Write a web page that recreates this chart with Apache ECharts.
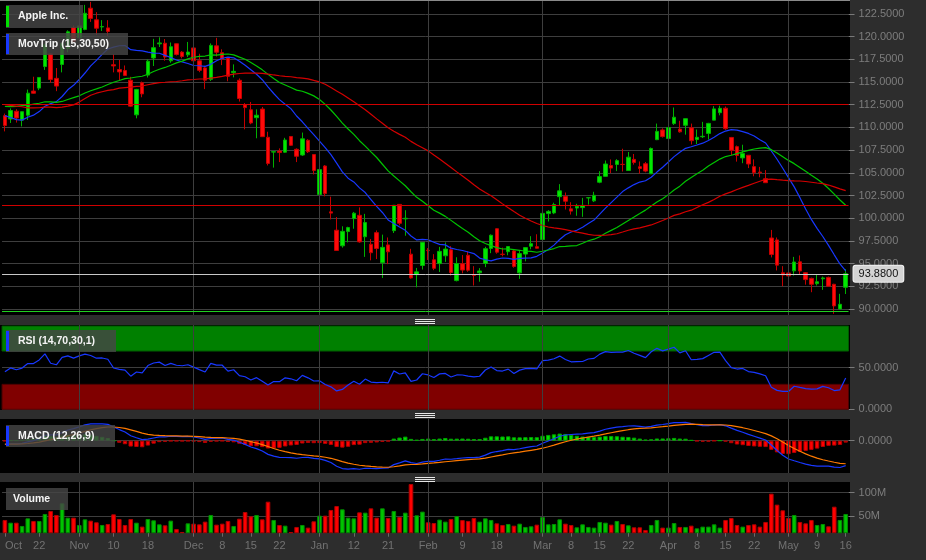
<!DOCTYPE html>
<html><head><meta charset="utf-8">
<script src="https://cdn.jsdelivr.net/npm/echarts@6/dist/echarts.min.js"></script>
<style>html,body{margin:0;padding:0;background:#2d2d2d;}#c{width:926px;height:560px;}</style>
</head><body><div id="c"></div>
<script>
// ---------- DATA ----------
const dates = [
'2015-10-14','2015-10-15','2015-10-16','2015-10-19','2015-10-20','2015-10-21','2015-10-22','2015-10-23','2015-10-26','2015-10-27','2015-10-28','2015-10-29','2015-10-30',
'2015-11-02','2015-11-03','2015-11-04','2015-11-05','2015-11-06','2015-11-09','2015-11-10','2015-11-11','2015-11-12','2015-11-13','2015-11-16','2015-11-17','2015-11-18','2015-11-19','2015-11-20','2015-11-23','2015-11-24','2015-11-25','2015-11-27','2015-11-30',
'2015-12-01','2015-12-02','2015-12-03','2015-12-04','2015-12-07','2015-12-08','2015-12-09','2015-12-10','2015-12-11','2015-12-14','2015-12-15','2015-12-16','2015-12-17','2015-12-18','2015-12-21','2015-12-22','2015-12-23','2015-12-24','2015-12-28','2015-12-29','2015-12-30','2015-12-31',
'2016-01-04','2016-01-05','2016-01-06','2016-01-07','2016-01-08','2016-01-11','2016-01-12','2016-01-13','2016-01-14','2016-01-15','2016-01-19','2016-01-20','2016-01-21','2016-01-22','2016-01-25','2016-01-26','2016-01-27','2016-01-28','2016-01-29',
'2016-02-01','2016-02-02','2016-02-03','2016-02-04','2016-02-05','2016-02-08','2016-02-09','2016-02-10','2016-02-11','2016-02-12','2016-02-16','2016-02-17','2016-02-18','2016-02-19','2016-02-22','2016-02-23','2016-02-24','2016-02-25','2016-02-26','2016-02-29',
'2016-03-01','2016-03-02','2016-03-03','2016-03-04','2016-03-07','2016-03-08','2016-03-09','2016-03-10','2016-03-11','2016-03-14','2016-03-15','2016-03-16','2016-03-17','2016-03-18','2016-03-21','2016-03-22','2016-03-23','2016-03-24','2016-03-28','2016-03-29','2016-03-30','2016-03-31',
'2016-04-01','2016-04-04','2016-04-05','2016-04-06','2016-04-07','2016-04-08','2016-04-11','2016-04-12','2016-04-13','2016-04-14','2016-04-15','2016-04-18','2016-04-19','2016-04-20','2016-04-21','2016-04-22','2016-04-25','2016-04-26','2016-04-27','2016-04-28','2016-04-29',
'2016-05-02','2016-05-03','2016-05-04','2016-05-05','2016-05-06','2016-05-09','2016-05-10','2016-05-11','2016-05-12','2016-05-13','2016-05-16'];

const opens = [111.29,110.93,111.78,110.80,111.34,114.00,114.33,116.70,118.08,115.40,116.93,118.70,120.99,
119.87,120.79,123.13,121.85,121.11,120.96,116.90,116.37,116.26,115.20,111.38,114.92,115.76,117.64,119.20,119.27,117.33,119.21,118.29,117.99,
118.75,117.34,116.55,115.29,118.98,117.52,117.64,116.04,115.19,112.18,111.94,111.07,112.02,108.91,107.28,107.40,107.27,109.00,107.59,106.96,108.58,107.01,
102.61,105.75,100.56,98.68,98.55,98.97,100.55,100.32,97.96,96.20,98.41,95.10,97.06,98.63,101.52,99.93,96.04,93.79,94.79,
96.47,95.42,95.00,95.86,96.52,93.13,94.29,95.92,93.79,94.19,95.02,96.67,98.84,96.00,96.31,96.40,93.98,96.05,97.20,96.86,
97.65,100.51,100.58,102.37,102.39,100.78,101.31,101.41,102.24,101.91,103.96,104.61,105.52,106.34,105.93,105.25,106.48,105.47,106.00,104.89,108.65,109.72,
108.78,110.42,109.51,110.23,109.95,108.91,108.97,109.34,110.80,111.62,112.11,108.89,107.88,106.64,106.93,105.01,105.00,103.91,96.00,97.61,93.99,
93.97,94.20,95.20,94.00,93.37,93.00,93.33,93.48,92.72,90.00,92.39];
const highs = [111.52,112.10,112.00,111.75,114.17,115.58,115.50,119.23,118.13,116.54,119.30,120.69,121.22,
121.36,123.49,123.82,122.69,121.81,121.81,118.07,117.42,116.82,115.57,114.24,115.05,117.49,119.75,119.92,119.73,119.35,119.23,118.41,119.41,
118.81,118.11,116.79,119.25,119.86,118.60,117.69,116.94,115.39,112.68,112.80,111.99,112.25,109.52,107.37,107.69,108.85,109.00,107.69,109.43,108.70,107.03,
105.37,105.85,102.37,100.13,99.11,99.06,100.69,101.19,100.48,97.71,98.65,98.19,97.88,101.46,101.53,100.88,96.63,94.52,97.34,
96.71,96.04,96.84,97.33,96.92,95.70,95.94,96.35,94.72,94.50,96.85,98.21,98.89,96.76,96.90,96.50,96.38,96.76,98.02,98.23,
100.77,100.89,101.71,103.75,102.83,101.76,101.58,102.24,102.28,102.91,105.18,106.35,106.47,106.50,107.65,107.29,107.07,106.25,106.19,107.79,110.42,109.90,
110.00,112.19,110.73,110.98,110.42,109.77,110.61,110.50,112.34,112.39,112.30,108.95,108.00,108.09,106.93,106.48,105.65,105.30,98.71,97.88,94.72,
94.08,95.74,95.90,94.07,93.45,93.77,93.57,93.57,92.78,91.67,94.39];
const lows = [109.56,110.49,110.53,110.11,110.82,113.70,114.10,116.33,114.92,113.99,116.06,118.27,119.45,
119.61,120.70,121.62,120.18,120.62,120.05,116.06,115.21,115.65,112.27,111.00,113.32,115.50,116.76,118.85,117.34,117.12,117.92,117.60,117.75,
116.86,116.08,114.22,115.11,117.81,116.86,115.08,115.51,112.85,109.79,110.35,108.80,108.98,105.81,105.57,106.18,107.20,107.95,106.18,106.86,107.18,104.82,
102.00,102.41,99.87,96.43,96.76,97.34,98.84,97.30,95.74,95.36,95.50,93.42,94.94,98.37,99.21,98.07,93.34,92.39,94.35,
95.40,94.28,94.08,95.19,93.69,93.04,93.93,94.10,92.59,93.01,94.61,96.15,96.09,95.80,95.92,94.55,93.32,95.25,96.58,96.65,
97.42,99.64,100.45,101.37,100.96,100.40,100.27,100.15,101.50,101.78,103.85,104.59,104.96,105.19,105.14,105.21,105.90,104.89,105.06,104.88,108.60,108.88,
108.20,110.27,109.42,109.20,108.12,108.17,108.83,108.66,110.80,111.33,109.73,106.94,106.23,106.06,105.52,104.62,104.51,103.91,95.68,94.25,92.51,
92.40,93.68,93.82,92.68,91.85,92.59,92.11,92.46,89.47,90.00,91.65];
const closes = [110.21,111.86,111.04,111.73,113.77,113.76,115.50,119.08,115.28,114.55,119.27,120.53,119.50,
121.18,122.57,122.00,120.92,121.06,120.57,116.77,116.11,115.72,112.34,114.18,113.69,117.29,118.78,119.30,117.75,118.88,118.03,117.81,118.30,
117.34,116.28,115.20,119.03,118.28,118.23,115.62,116.17,113.18,112.48,110.49,111.34,108.98,106.03,107.33,107.23,108.61,108.03,106.82,108.74,107.32,105.26,
105.35,102.71,100.70,96.45,96.96,98.53,99.96,97.39,99.52,97.13,96.66,96.79,96.30,101.42,99.44,99.99,93.42,94.09,97.34,
96.43,94.48,96.35,96.60,94.02,95.01,94.99,94.27,93.70,93.99,96.64,98.12,96.26,96.04,96.88,94.69,96.10,96.76,96.91,96.69,
100.53,100.75,101.50,103.01,101.87,101.03,101.12,101.17,102.26,102.52,104.58,105.97,105.80,105.92,105.91,106.72,106.13,105.67,105.19,107.68,109.56,108.99,
109.99,111.12,109.81,110.96,108.54,108.66,109.02,110.44,112.04,112.10,109.85,107.48,106.91,107.13,105.97,105.68,105.08,104.35,97.82,94.83,93.74,
93.64,95.18,94.19,93.24,92.72,92.79,93.42,92.51,90.34,90.52,93.88];
// closes before the visible window (needed for the moving averages / indicators)
const priorCloses = [115.40,115.13,115.52,119.72,113.49,115.24,115.15,115.96,117.16,116.50,115.01,112.65,105.76,103.12,103.74,109.69,112.92,113.29,112.76,
107.72,112.34,110.37,109.27,112.31,110.15,112.57,114.21,115.31,116.28,116.41,113.92,113.45,115.21,113.40,114.32,115.00,114.71,112.44,109.06,110.30,
109.58,110.38,110.78,111.31,110.78,109.50,112.12,111.60,111.79];
// volume in millions
const volumes = [42.2,36.5,36.5,29.5,45.7,40.1,40.1,54.9,61.3,52.8,
77.5,47.1,47.1,31.6,43.6,40.8,37.3,31.6,33.7,54.2,
44.3,31.6,44.3,36.5,28.1,44.3,41.5,33.0,30.9,40.8,
23.1,16.8,35.1,34.4,33.0,38.7,52.8,32.3,34.4,40.1,
29.5,45.0,59.1,50.0,52.8,43.6,81.0,42.2,31.6,30.2,
16.5,27.4,31.6,26.0,39.4,51.4,51.4,63.4,71.8,64.8,
47.1,45.7,58.4,57.7,66.9,47.1,66.9,46.4,61.3,48.5,
57.7,118.4,52.1,59.9,37.3,35.8,42.9,38.7,44.3,50.7,
42.0,40.1,46.4,38.7,45.7,42.2,35.1,31.6,33.7,30.2,
34.4,27.4,28.8,32.3,48.5,33.0,33.7,43.6,34.4,31.6,
26.7,33.0,27.4,26.0,38.0,36.5,32.3,40.1,33.7,30.9,
26.7,26.7,21.0,31.6,42.2,26.0,26.0,35.8,27.4,27.4,
30.2,24.5,28.1,28.1,33.0,26.0,42.2,46.4,31.6,28.1,
31.6,33.0,28.1,38.0,98.0,74.7,62.7,46.4,52.8,38.0,
35.1,42.2,31.6,33.7,28.8,70.4,42.2,54.9];

const maPeriods = [15, 30, 50];
const priceTicks = [90, 92.5, 95, 97.5, 100, 102.5, 105, 107.5, 110, 112.5, 115, 117.5, 120, 122.5];
const rsiTicks = [0, 50];
const macdTicks = [0];
const volTicks = [50, 100];
const tickDates = ['2015-10-14','2015-10-22','2015-11-02','2015-11-10','2015-11-18','2015-12-01','2015-12-08','2015-12-15','2015-12-22','2016-01-04','2016-01-12','2016-01-21','2016-02-01','2016-02-09','2016-02-18','2016-03-01','2016-03-08','2016-03-15','2016-03-22','2016-04-01','2016-04-08','2016-04-15','2016-04-22','2016-05-02','2016-05-09','2016-05-16'];
const tickText = ['Oct','22','Nov','10','18','Dec','8','15','22','Jan','12','21','Feb','9','18','Mar','8','15','22','Apr','8','15','22','May','9','16'];
const monthStarts = ['2015-11-02','2015-12-01','2016-01-04','2016-02-01','2016-03-01','2016-04-01','2016-05-02'];
const redLevels = [112.5, 101.42];
const greenLevels = [89.78];

// ---------- DERIVED ----------
const N = dates.length, P = priorCloses.length;
const allCloses = priorCloses.concat(closes);
const up = closes.map((c, i) => c >= (i === 0 ? priorCloses[P - 1] : closes[i - 1]));
function sma(n) {
  return closes.map((_, i) => { let s = 0; for (let k = P + i - n + 1; k <= P + i; k++) s += allCloses[k]; return s / n; });
}
function ema(arr, n) { const a = 2 / (n + 1); let e = arr[0]; return arr.map((v, i) => (e = i === 0 ? v : a * v + (1 - a) * e)); }
function rsiCalc(arr, n) {
  const out = new Array(arr.length).fill(null); let g = 0, l = 0;
  for (let i = 1; i <= n; i++) { const d = arr[i] - arr[i - 1]; if (d > 0) g += d; else l -= d; }
  g /= n; l /= n; out[n] = 100 - 100 / (1 + g / l);
  for (let i = n + 1; i < arr.length; i++) { const d = arr[i] - arr[i - 1];
    g = (g * (n - 1) + Math.max(d, 0)) / n; l = (l * (n - 1) + Math.max(-d, 0)) / n;
    out[i] = l === 0 ? 100 : 100 - 100 / (1 + g / l); }
  return out;
}
const mas = maPeriods.map(sma);
const e12 = ema(allCloses, 12), e26 = ema(allCloses, 26);
const macdAll = e12.map((v, i) => v - e26[i]);
const sigAll = ema(macdAll, 9);
const macd = macdAll.slice(P), signal = sigAll.slice(P);
const hist = macd.map((v, i) => v - signal[i]);
const rsi = rsiCalc(allCloses, 14).slice(P);

// ---------- STYLE ----------
const FONT = "'Liberation Sans', Arial, sans-serif";
const G_FILL = '#00e800', G_LINE = '#00b000', R_FILL = '#ff0a0a', R_LINE = '#c40000';
const GRIDC = '#3e3e3e', LABC = '#7d7d7d';
const BLUE = '#1838ff';

const candleData = closes.map((c, i) => ({
  value: [opens[i], c, lows[i], highs[i]],
  itemStyle: { color: up[i] ? G_FILL : R_FILL, color0: up[i] ? G_FILL : R_FILL,
               borderColor: up[i] ? G_LINE : R_LINE, borderColor0: up[i] ? G_LINE : R_LINE }
}));
const volData = volumes.map((v, i) => ({ value: v, itemStyle: { color: up[i] ? '#00c400' : '#ff0000', borderColor: up[i] ? '#008c00' : '#b00000', borderWidth: 1 } }));
const histData = hist.map(v => ({ value: v, itemStyle: { color: v >= 0 ? '#00e400' : '#ff0000', borderColor: v >= 0 ? '#00a000' : '#b40000', borderWidth: 1 } }));

const gridRects = [
  { top: 1, height: 314 }, { top: 325, height: 85 }, { top: 419, height: 54 }, { top: 482, height: 50.7 }
];
const isTick = (idx, val) => tickDates.indexOf(val) >= 0;
const nulls = dates.map(() => null);

function monthLines(k) {
  return { type: 'line', xAxisIndex: k, yAxisIndex: k, data: nulls, z: 1, silent: true, symbol: 'none',
    markLine: { silent: true, symbol: ['none', 'none'], animation: false, label: { show: false },
      lineStyle: { color: GRIDC, width: 1, type: 'solid' },
      data: monthStarts.map(d => ({ xAxis: d })) } };
}
function yAx(k, min, max, ticks, fmt) {
  return { type: 'value', gridIndex: k, position: 'right', min, max,
    axisLine: { show: false },
    axisTick: { show: true, customValues: ticks, length: 6, lineStyle: { color: '#7a7a7a' } },
    axisLabel: { customValues: ticks, formatter: fmt, color: LABC, fontSize: 11, fontFamily: FONT, margin: 10 },
    splitLine: { show: true, lineStyle: { color: GRIDC, width: 1 } } };
}
function xAx(k) {
  const last = k === 3;
  return { type: 'category', gridIndex: k, data: dates, boundaryGap: true,
    axisLine: { show: false }, splitLine: { show: false },
    axisTick: last ? { show: true, alignWithLabel: true, interval: isTick, length: 4, lineStyle: { color: '#6a6a6a' } } : { show: false },
    axisLabel: last ? { show: true, interval: isTick, formatter: v => tickText[tickDates.indexOf(v)], color: '#727272', fontSize: 11, fontFamily: FONT, margin: 8, alignMinLabel: 'left' } : { show: false } };
}

function titleBox(x, y, w, h, text, stripe) {
  const els = [{ type: 'rect', z: 100, shape: { x, y, width: w, height: h }, style: { fill: 'rgba(70,70,70,0.82)' } }];
  if (stripe) els.push({ type: 'rect', z: 101, shape: { x, y: y + 1, width: 3, height: h - 2 }, style: { fill: stripe } });
  els.push({ type: 'text', z: 102, style: { text, x: x + (stripe ? 12 : 7), y: y + h / 2, fill: '#f4f4f4', font: 'bold 10.5px ' + FONT, verticalAlign: 'middle', textVerticalAlign: 'middle' } });
  return els;
}
function handle(yc) {
  return [-2, 0, 2].map(d => ({ type: 'rect', z: 5, shape: { x: 415, y: yc + d, width: 20, height: 1 }, style: { fill: '#e6e6e6' } }));
}

const graphics = [].concat(
  gridRects.map(g => ({ type: 'rect', z: -10, shape: { x: 0, y: g.top, width: 850, height: g.height }, style: { fill: '#000' } })),
  [{ type: 'rect', z: -9, shape: { x: 0, y: 0, width: 850, height: 1 }, style: { fill: '#8a8a8a' } }],
  handle(321), handle(415), handle(479),
  titleBox(6, 5, 77, 23, 'Apple Inc.', '#00e000'),
  titleBox(6, 33, 122, 22, 'MovTrip (15,30,50)', '#1838ff'),
  titleBox(6, 330, 110, 22, 'RSI (14,70,30,1)', '#1838ff'),
  titleBox(6, 425, 109, 22, 'MACD (12,26,9)', '#1838ff'),
  titleBox(6, 488, 62, 22, 'Volume', null)
);

const option = {
  animation: false,
  backgroundColor: '#2d2d2d',
  textStyle: { fontFamily: FONT },
  graphic: { elements: graphics },
  grid: gridRects.map(g => ({ left: 2.04, width: 846.5, top: g.top, height: g.height, containLabel: false, outerBoundsMode: 'none', show: false })),
  xAxis: [0, 1, 2, 3].map(xAx),
  yAxis: [
    yAx(0, 89.34, 123.92, priceTicks, v => v.toFixed(4)),
    yAx(1, -0.84, 101.3, rsiTicks, v => v.toFixed(4)),
    yAx(2, -4.75, 3.19, macdTicks, v => v.toFixed(4)),
    yAx(3, 15.25, 122.7, volTicks, v => v + 'M')
  ],
  series: [
    monthLines(0),
    { type: 'candlestick', xAxisIndex: 0, yAxisIndex: 0, data: candleData, barWidth: 4, z: 3,
      itemStyle: { borderWidth: 1 },
      markLine: { silent: true, symbol: ['none', 'none'], animation: false,
        label: { show: false }, lineStyle: { type: 'solid', width: 1 },
        data: [].concat(
          redLevels.map(v => ({ yAxis: v, lineStyle: { color: '#d00000', type: 'solid', width: 1 } })),
          greenLevels.map(v => ({ yAxis: v, lineStyle: { color: '#20d020', type: 'solid', width: 1 } })),
          [{ yAxis: closes[N - 1], lineStyle: { color: '#c8c8c8', type: 'solid', width: 1 },
             label: { show: true, position: 'end', distance: 5, formatter: () => closes[N - 1].toFixed(4),
               backgroundColor: '#d4d4d4', borderColor: '#f2f2f2', borderWidth: 1, borderRadius: 2,
               color: '#111', fontSize: 11, fontFamily: FONT, padding: [3, 5, 2, 5] } }]) } },
    { type: 'line', name: 'MA15', xAxisIndex: 0, yAxisIndex: 0, data: mas[0], symbol: 'none', z: 4, lineStyle: { color: BLUE, width: 1.2 } },
    { type: 'line', name: 'MA30', xAxisIndex: 0, yAxisIndex: 0, data: mas[1], symbol: 'none', z: 4, lineStyle: { color: '#00c400', width: 1.2 } },
    { type: 'line', name: 'MA50', xAxisIndex: 0, yAxisIndex: 0, data: mas[2], symbol: 'none', z: 4, lineStyle: { color: '#d40000', width: 1.2 } },

    monthLines(1),
    { type: 'line', name: 'RSI', xAxisIndex: 1, yAxisIndex: 1, data: rsi, symbol: 'none', z: 2, lineStyle: { color: BLUE, width: 1.2 } },
    { type: 'line', xAxisIndex: 1, yAxisIndex: 1, data: nulls, symbol: 'none', z: 5, silent: true,
      markArea: { silent: true, animation: false,
        data: [
          [{ yAxis: 70, itemStyle: { color: 'rgba(0,255,0,0.5)', borderColor: 'rgba(0,90,0,1)', borderWidth: 1 } }, { yAxis: 100 }],
          [{ yAxis: 0, itemStyle: { color: 'rgba(255,0,0,0.5)', borderColor: 'rgba(80,0,0,1)', borderWidth: 1 } }, { yAxis: 30 }]
        ] } },

    monthLines(2),
    { type: 'bar', name: 'Hist', xAxisIndex: 2, yAxisIndex: 2, data: histData, barWidth: 4.4, z: 2 },
    { type: 'line', name: 'MACD', xAxisIndex: 2, yAxisIndex: 2, data: macd, symbol: 'none', z: 3, lineStyle: { color: BLUE, width: 1.2 } },
    { type: 'line', name: 'Signal', xAxisIndex: 2, yAxisIndex: 2, data: signal, symbol: 'none', z: 3, lineStyle: { color: '#ff7a00', width: 1.2 } },

    monthLines(3),
    { type: 'bar', name: 'Volume', xAxisIndex: 3, yAxisIndex: 3, data: volData, barWidth: 4.6, z: 2 }
  ]
};
const chart = echarts.init(document.getElementById('c'), null, { renderer: 'canvas' });
chart.setOption(option);
</script>
</body></html>
